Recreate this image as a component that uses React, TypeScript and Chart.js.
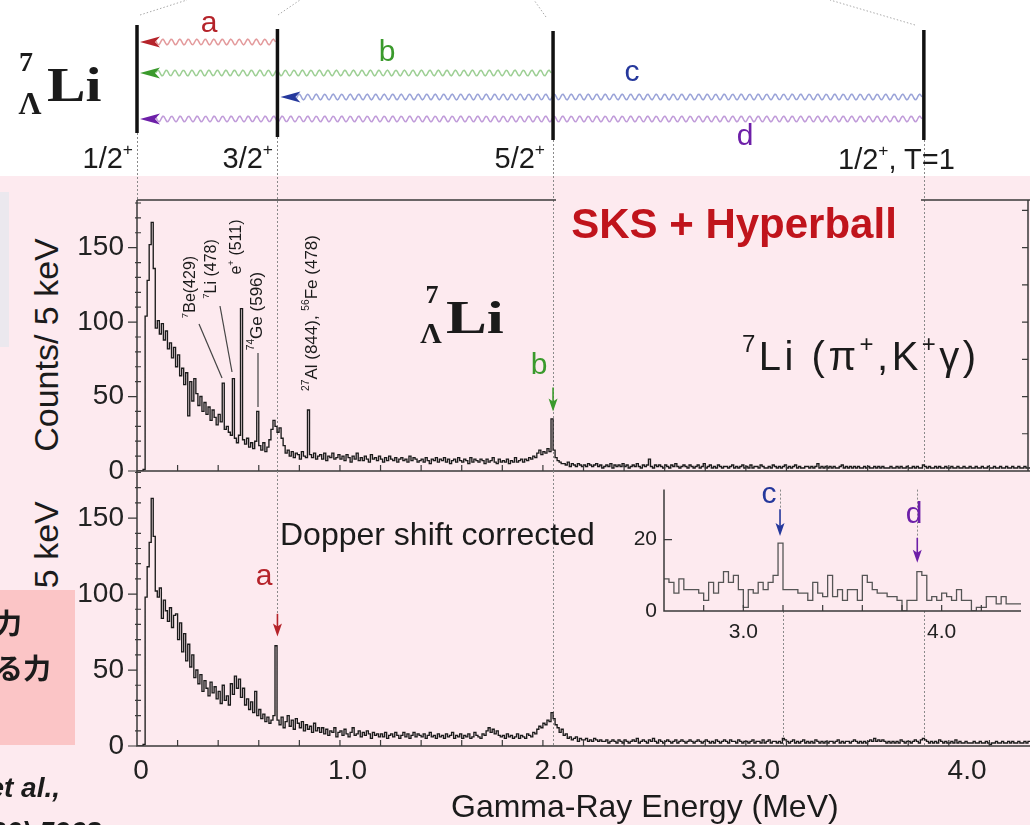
import React, { useEffect, useRef } from "react";
import { Chart, registerables } from "chart.js";

Chart.register(...registerables);

// ---------------- page / style ----------------
const PAGE_W = 1030;
const PAGE_H = 825;
const SANS = '"Liberation Sans", Arial, Helvetica, sans-serif';
const SERIF = '"Liberation Serif", "Times New Roman", serif';
const CJK = '"Noto Sans CJK JP", "Noto Sans CJK SC", sans-serif';
const PINK = "#fdeaef";
const SALMON = "#fbc5c6";
const INK = "#1b1b1b";
const AXIS_INK = "#3a3a3a";
const GUIDE = "#8a8a8a";

// ---------------- data ----------------
const E_MAX_MEV = 4.4;
const MAIN_BIN_MEV = 0.01;

// counts (per 5 keV scale) of the spectrum without Doppler correction, 10 keV steps from 0 MeV
const upperCounts = [
  0, 0, 0, 1, 104, 128, 152, 167, 136, 96,
  101, 92, 99, 88, 94, 82, 86, 76, 83, 70,
  78, 64, 69, 58, 66, 37, 60, 47, 62, 52,
  44, 50, 40, 46, 38, 43, 34, 41, 36, 31,
  38, 33, 59, 28, 30, 26, 24, 62, 22, 19,
  24, 109, 21, 18, 22, 16, 19, 15, 20, 40,
  17, 14, 19, 13, 16, 21, 28, 34, 30, 26,
  29, 22, 17, 12, 14, 10, 13, 9, 12, 11,
  8, 13, 10, 9, 41, 11, 9, 12, 8, 10,
  11, 8, 12, 7, 10, 9, 12, 8, 9, 11,
  8, 10, 7, 11, 9, 6, 10, 8, 12, 7,
  9, 7, 10, 8, 6, 11, 8, 9, 7, 10,
  8, 6, 9, 7, 10, 8, 7, 9, 6, 8,
  9, 7, 8, 6, 10, 7, 9, 8, 6, 7,
  8, 6, 9, 7, 5, 8, 7, 9, 6, 8,
  7, 9, 6, 8, 5, 7, 8, 6, 9, 7,
  6, 8, 7, 5, 9, 6, 8, 7, 6, 8,
  7, 5, 8, 6, 7, 9, 6, 5, 8, 6,
  7, 6, 8, 5, 7, 6, 9, 6, 7, 8,
  6, 8, 7, 9, 8, 10, 9, 12, 14, 11,
  13, 12, 15, 13, 35, 14, 9, 7, 6, 5,
  5, 4, 6, 3, 5, 4, 3, 5, 4, 3,
  4, 3, 5, 4, 3, 4, 5, 3, 4, 2,
  3, 4, 3, 5, 2, 4, 3, 4, 3, 5,
  3, 4, 2, 3, 4, 3, 5, 3, 2, 4,
  3, 4, 8, 3, 2, 4, 3, 4, 3, 2,
  4, 3, 2, 4, 3, 5, 3, 2, 3, 4,
  3, 2, 4, 3, 2, 3, 4, 2, 3, 5,
  2, 3, 4, 2, 3, 2, 4, 3, 2, 3,
  3, 2, 3, 4, 2, 3, 2, 3, 4, 2,
  3, 2, 4, 2, 3, 3, 2, 4, 3, 2,
  2, 3, 2, 4, 3, 2, 3, 2, 3, 4,
  2, 3, 2, 3, 4, 2, 3, 2, 2, 3,
  3, 2, 3, 2, 3, 5, 2, 3, 2, 3,
  2, 3, 2, 3, 2, 2, 3, 4, 2, 3,
  2, 3, 2, 3, 2, 3, 2, 2, 3, 2,
  3, 2, 2, 3, 2, 3, 2, 3, 2, 2,
  2, 3, 2, 2, 3, 2, 3, 2, 2, 3,
  2, 2, 3, 2, 3, 2, 2, 4, 3, 2,
  3, 2, 2, 3, 2, 3, 2, 2, 3, 2,
  2, 3, 2, 2, 3, 2, 2, 3, 2, 2,
  3, 2, 2, 3, 2, 2, 3, 2, 2, 3,
  2, 2, 3, 2, 2, 3, 2, 2, 3, 2,
  2, 3, 2, 2, 3, 2, 2, 3, 2, 2,
];

// counts of the Doppler-shift-corrected spectrum, 10 keV steps from 0 MeV
const lowerCounts = [
  0, 0, 0, 1, 98, 118, 134, 163, 138, 102,
  98, 104, 84, 96, 89, 82, 91, 78, 86, 87,
  70, 81, 62, 74, 56, 67, 52, 60, 45, 50,
  41, 47, 36, 43, 38, 33, 42, 35, 39, 31,
  36, 28, 40, 30, 33, 27, 41, 34, 46, 38,
  44, 32, 38, 27, 31, 24, 29, 22, 36, 20,
  24, 18, 21, 16, 19, 15, 17, 20, 66, 17,
  14, 19, 12, 16, 20, 13, 17, 11, 18, 15,
  12, 16, 10, 14, 11, 13, 9, 15, 10, 12,
  9, 12, 8, 11, 7, 10, 9, 12, 6, 9,
  10, 7, 11, 8, 6, 9, 12, 7, 8, 10,
  6, 9, 7, 10, 8, 5, 9, 7, 8, 6,
  8, 6, 9, 5, 7, 8, 6, 9, 7, 5,
  7, 9, 6, 8, 5, 7, 9, 6, 8, 7,
  6, 8, 5, 7, 9, 6, 7, 5, 8, 6,
  7, 5, 8, 6, 7, 9, 5, 7, 6, 8,
  5, 7, 6, 8, 5, 6, 9, 7, 6, 5,
  8, 7, 10, 12, 9, 11, 8, 10, 7, 6,
  7, 5, 8, 6, 7, 5, 6, 8, 5, 7,
  6, 5, 8, 7, 6, 9, 8, 11, 13, 12,
  15, 14, 17, 16, 22, 18, 14, 12, 9, 11,
  7, 8, 5, 6, 4, 5, 6, 3, 5, 4,
  4, 5, 3, 4, 3, 5, 4, 3, 4, 3,
  3, 4, 2, 3, 4, 3, 2, 4, 3, 2,
  4, 3, 2, 3, 4, 3, 5, 2, 3, 4,
  3, 2, 4, 3, 5, 3, 2, 4, 3, 2,
  3, 4, 3, 2, 3, 4, 2, 3, 4, 3,
  2, 3, 4, 3, 2, 3, 4, 3, 2, 3,
  4, 3, 2, 3, 2, 4, 3, 2, 3, 4,
  3, 2, 4, 3, 3, 2, 4, 3, 2, 3,
  3, 2, 3, 4, 2, 3, 3, 2, 4, 2,
  3, 4, 2, 3, 3, 2, 3, 2, 5, 4,
  3, 2, 3, 4, 2, 3, 2, 3, 4, 2,
  3, 2, 3, 2, 4, 3, 2, 3, 2, 3,
  2, 3, 3, 2, 3, 4, 2, 3, 2, 3,
  3, 2, 3, 4, 3, 2, 3, 2, 3, 2,
  3, 4, 3, 5, 3, 4, 3, 4, 3, 2,
  3, 2, 3, 2, 3, 2, 4, 3, 2, 3,
  3, 2, 3, 4, 3, 2, 4, 5, 4, 3,
  2, 3, 2, 3, 2, 4, 3, 2, 3, 2,
  2, 3, 2, 4, 2, 3, 2, 2, 3, 2,
  2, 2, 3, 2, 2, 3, 2, 2, 3, 2,
  1, 2, 2, 3, 2, 2, 3, 2, 2, 3,
  2, 3, 2, 2, 3, 2, 2, 3, 2, 3,
];

// inset: 25 keV bins from 2.6 MeV
const INSET_START_MEV = 2.6;
const INSET_BIN_MEV = 0.025;
const insetCounts = [
  9, 8, 5, 9, 6, 6, 6, 5, 3, 8,
  5, 8, 11, 8, 10, 6, 1, 6, 5, 8,
  6, 8, 10, 19, 6, 6, 6, 5, 5, 3,
  8, 5, 4, 10, 4, 6, 3, 6, 6, 3,
  10, 8, 6, 5, 5, 4, 4, 3, 0, 3,
  3, 11, 10, 3, 4, 3, 5, 4, 3, 6,
  3, 3, 0, 1, 1, 4, 4, 2, 4, 2,
  2, 2,
];

// level scheme of 7ΛLi (MeV)
const levelEnergies = [0, 0.692, 2.05, 3.877];
const transitions = [
  { name: "a", upper: 1, lower: 0, color: "#b5232a", wave: "#e39a9c" },
  { name: "b", upper: 2, lower: 0, color: "#3a9a2c", wave: "#9dcf94" },
  { name: "c", upper: 3, lower: 1, color: "#25389c", wave: "#9aa3d8" },
  { name: "d", upper: 3, lower: 0, color: "#6d1fa8", wave: "#c09bd9" },
];
const gammaEnergy = (t) => levelEnergies[t.upper] - levelEnergies[t.lower];

const mainYTickLabels = [0, 50, 100, 150];
const mainXTickLabels = [0, 1, 2, 3, 4];
const insetYTickLabels = [0, 20];
const insetXTickLabels = [3, 4];
const UPPER_Y_MAX = 182;
const LOWER_Y_MAX = 181;
const INSET_Y_MAX = 34;

// arrows (tail/tip in counts)
const upperArrows = [{ t: 1, tail: 56, tip: 40 }];
const lowerArrows = [{ t: 0, tail: 87, tip: 72 }];
const insetArrows = [
  { t: 2, tail: 28.5, tip: 21 },
  { t: 3, tail: 20.5, tip: 13.5 },
];

// ---------------- layout ----------------
const PLOT_LEFT = 137;
const UPPER_TOP = 200;
const UPPER_BOTTOM = 471;
const LOWER_BOTTOM = 746;
// the printed energy labels of the original figure sit on a slightly wider grid than the data
const LABEL_AXIS_MIN = -0.0194;
const LABEL_AXIS_MAX = 4.305;
const INSET = { left: 600, top: 470, width: 430, height: 180, plotLeft: 664, plotTop: 478, plotBottom: 611 };
const LEVEL_TOP = [25, 29, 31, 30];
const LEVEL_BOTTOM = [133, 137, 140, 140];
const TRANSITION_Y = [42, 73, 97, 119];
const TOP_DIAGONALS = [
  [140, 15, 187, 0],
  [278, 15, 300, 0],
  [546, 17, 534, 0],
  [915, 25, 830, 0],
];

function histPoints(counts, start, bin) {
  const pts = counts.map((c, i) => ({ x: start + i * bin, y: c }));
  pts.push({ x: start + counts.length * bin, y: counts[counts.length - 1] });
  return pts;
}

const near = (v, list) => list.some((k) => Math.abs(v - k) < 1e-6);

function wavy(ctx, x0, x1, y, amp, lambda) {
  const n = Math.ceil(Math.abs(x1 - x0));
  ctx.beginPath();
  for (let i = 0; i <= n; i++) {
    const xx = x0 + ((x1 - x0) * i) / n;
    const yy = y + amp * Math.sin((2 * Math.PI * (xx - x0)) / lambda);
    if (i === 0) ctx.moveTo(xx, yy);
    else ctx.lineTo(xx, yy);
  }
  ctx.stroke();
}

function drawDownArrow(ctx, px, yTail, yTip, color) {
  ctx.save();
  ctx.setLineDash([]);
  ctx.strokeStyle = color;
  ctx.fillStyle = color;
  ctx.lineWidth = 1.6;
  ctx.beginPath();
  ctx.moveTo(px, yTail);
  ctx.lineTo(px, yTip - 8);
  ctx.stroke();
  ctx.beginPath();
  ctx.moveTo(px, yTip);
  ctx.lineTo(px - 4.5, yTip - 13);
  ctx.lineTo(px, yTip - 10);
  ctx.lineTo(px + 4.5, yTip - 13);
  ctx.closePath();
  ctx.fill();
  ctx.restore();
}

function guide(ctx, px, y0, y1) {
  ctx.save();
  ctx.strokeStyle = GUIDE;
  ctx.lineWidth = 1;
  ctx.setLineDash([2, 2]);
  ctx.beginPath();
  const x = Math.round(px) + 0.5;
  ctx.moveTo(x, y0);
  ctx.lineTo(x, y1);
  ctx.stroke();
  ctx.restore();
}

function drawFrame(chart, o) {
  const { ctx, chartArea: a } = chart;
  const x = chart.scales.x;
  const y = chart.scales.y;
  ctx.save();
  ctx.setLineDash([]);
  ctx.strokeStyle = AXIS_INK;
  ctx.lineWidth = 1.5;
  ctx.beginPath();
  if (o.top) {
    ctx.moveTo(a.left, a.top);
    ctx.lineTo(a.right, a.top);
  }
  ctx.moveTo(a.left, a.top);
  ctx.lineTo(a.left, a.bottom);
  ctx.lineTo(a.right, a.bottom);
  if (o.right) {
    ctx.moveTo(a.right - 2, a.top);
    ctx.lineTo(a.right - 2, a.bottom);
  }
  ctx.stroke();
  ctx.lineWidth = 1.2;
  ctx.beginPath();
  for (const v of o.yMajor) {
    const py = y.getPixelForValue(v);
    ctx.moveTo(a.left + (o.majorIn ? 8 : -9), py);
    ctx.lineTo(a.left, py);
  }
  if (o.yMinorStep) {
    for (let v = o.yMinorStep; v < y.max; v += o.yMinorStep) {
      if (near(v, o.yMajor)) continue;
      const py = y.getPixelForValue(v);
      ctx.moveTo(a.left - 2, py);
      ctx.lineTo(a.left + 4, py);
    }
  }
  if (o.right && o.rightStep) {
    for (let v = o.rightStep; v < y.max; v += o.rightStep) {
      const py = y.getPixelForValue(v);
      ctx.moveTo(a.right - 2, py);
      ctx.lineTo(a.right - 8, py);
    }
  }
  const xs = o.xStep;
  for (let k = Math.ceil((x.min + 1e-9) / xs); k * xs < x.max - 1e-9; k++) {
    const px = x.getPixelForValue(k * xs);
    if (px <= a.left + 1) continue;
    ctx.moveTo(px, a.bottom);
    ctx.lineTo(px, a.bottom - 6);
  }
  ctx.stroke();
  ctx.restore();
}

function drawLevelScheme(chart) {
  const { ctx } = chart;
  const x = chart.scales.x;
  const xs = levelEnergies.map((E) => x.getPixelForValue(E));
  ctx.save();
  ctx.setLineDash([1.5, 2]);
  ctx.strokeStyle = "#a9a9a9";
  ctx.lineWidth = 1;
  for (const [x0, y0, x1, y1] of TOP_DIAGONALS) {
    ctx.beginPath();
    ctx.moveTo(x0, y0);
    ctx.lineTo(x1, y1);
    ctx.stroke();
  }
  ctx.setLineDash([]);
  transitions.forEach((t, i) => {
    const xHi = xs[t.upper];
    const xLo = xs[t.lower];
    const yy = TRANSITION_Y[i];
    ctx.strokeStyle = t.wave;
    ctx.lineWidth = 1.5;
    wavy(ctx, xHi - 2, xLo + 19, yy, 2.8, 8.5);
    ctx.fillStyle = t.color;
    ctx.beginPath();
    ctx.moveTo(xLo + 3, yy);
    ctx.lineTo(xLo + 23, yy - 5.5);
    ctx.lineTo(xLo + 18, yy);
    ctx.lineTo(xLo + 23, yy + 5.5);
    ctx.closePath();
    ctx.fill();
  });
  ctx.strokeStyle = "#111";
  ctx.lineWidth = 3.5;
  xs.forEach((px, i) => {
    ctx.beginPath();
    ctx.moveTo(px, LEVEL_TOP[i]);
    ctx.lineTo(px, LEVEL_BOTTOM[i]);
    ctx.stroke();
  });
  ctx.restore();
}

const upperPlugin = {
  id: "upperDecor",
  beforeDatasetsDraw(chart) {
    const { ctx, chartArea: a } = chart;
    const x = chart.scales.x;
    levelEnergies.forEach((E, i) => {
      guide(ctx, x.getPixelForValue(E), LEVEL_BOTTOM[i], i === 0 ? a.top : a.bottom);
    });
  },
  afterDatasetsDraw(chart) {
    const { ctx } = chart;
    const x = chart.scales.x;
    const y = chart.scales.y;
    drawFrame(chart, { top: true, right: true, rightStep: 25, yMajor: mainYTickLabels, yMinorStep: 10, xStep: 0.2 });
    for (const ar of upperArrows) {
      const t = transitions[ar.t];
      drawDownArrow(ctx, x.getPixelForValue(gammaEnergy(t)), y.getPixelForValue(ar.tail), y.getPixelForValue(ar.tip), t.color);
    }
    drawLevelScheme(chart);
  },
};

const lowerPlugin = {
  id: "lowerDecor",
  beforeDatasetsDraw(chart) {
    const { ctx, chartArea: a } = chart;
    const x = chart.scales.x;
    const y = chart.scales.y;
    for (const ar of lowerArrows) {
      const t = transitions[ar.t];
      guide(ctx, x.getPixelForValue(gammaEnergy(t)), a.top, y.getPixelForValue(ar.tail));
    }
    guide(ctx, x.getPixelForValue(gammaEnergy(transitions[1])), a.top, a.bottom);
    guide(ctx, x.getPixelForValue(gammaEnergy(transitions[2])), INSET.plotBottom, a.bottom);
    guide(ctx, x.getPixelForValue(gammaEnergy(transitions[3])), INSET.plotBottom, a.bottom);
  },
  afterDatasetsDraw(chart) {
    const { ctx } = chart;
    const x = chart.scales.x;
    const y = chart.scales.y;
    drawFrame(chart, { top: false, right: false, yMajor: mainYTickLabels, yMinorStep: 10, xStep: 0.2 });
    for (const ar of lowerArrows) {
      const t = transitions[ar.t];
      drawDownArrow(ctx, x.getPixelForValue(gammaEnergy(t)), y.getPixelForValue(ar.tail), y.getPixelForValue(ar.tip), t.color);
    }
  },
};

const insetPlugin = {
  id: "insetDecor",
  beforeDatasetsDraw(chart) {
    const { ctx, chartArea: a } = chart;
    const x = chart.scales.x;
    const y = chart.scales.y;
    for (const ar of insetArrows) {
      const t = transitions[ar.t];
      guide(ctx, x.getPixelForValue(gammaEnergy(t)), a.top, y.getPixelForValue(ar.tail));
    }
  },
  afterDatasetsDraw(chart) {
    const { ctx } = chart;
    const x = chart.scales.x;
    const y = chart.scales.y;
    drawFrame(chart, { top: false, right: false, yMajor: [20], majorIn: true, yMinorStep: 0, xStep: 0.2 });
    for (const ar of insetArrows) {
      const t = transitions[ar.t];
      drawDownArrow(ctx, x.getPixelForValue(gammaEnergy(t)), y.getPixelForValue(ar.tail), y.getPixelForValue(ar.tip), t.color);
    }
  },
};

function mainConfig(counts, yMax, top, bottom, showX, plugin) {
  const scales = {
    x: { type: "linear", min: 0, max: E_MAX_MEV, display: false },
    y: {
      type: "linear",
      min: 0,
      max: yMax,
      grid: { display: false, drawTicks: false },
      border: { display: false },
      ticks: {
        stepSize: 10,
        autoSkip: false,
        padding: 13,
        color: "#222",
        font: { family: SANS, size: 28 },
        callback: (v) => (near(Number(v), mainYTickLabels) ? String(Math.round(Number(v))) : ""),
      },
      afterFit: (s) => {
        s.width = PLOT_LEFT;
      },
    },
  };
  if (showX) {
    scales.xLab = {
      type: "linear",
      position: "bottom",
      min: LABEL_AXIS_MIN,
      max: LABEL_AXIS_MAX,
      grid: { display: false, drawTicks: false },
      border: { display: false },
      afterBuildTicks: (s) => {
        s.ticks = mainXTickLabels.map((v) => ({ value: v }));
      },
      ticks: {
        autoSkip: false,
        maxRotation: 0,
        minRotation: 0,
        padding: 8,
        color: "#222",
        font: { family: SANS, size: 28 },
        callback: (v) => {
          const n = Number(v);
          return n === 0 ? "0" : n.toFixed(1);
        },
      },
      afterFit: (s) => {
        s.height = PAGE_H - bottom;
      },
    };
  }
  return {
    type: "line",
    data: {
      datasets: [
        {
          xAxisID: "x",
          yAxisID: "y",
          data: histPoints(counts, 0, MAIN_BIN_MEV),
          borderColor: INK,
          borderWidth: 1.35,
          pointRadius: 0,
          stepped: true,
          fill: false,
        },
      ],
    },
    options: {
      responsive: false,
      animation: false,
      events: [],
      layout: { padding: { top, left: 0, right: 0, bottom: showX ? 0 : PAGE_H - bottom } },
      plugins: { legend: { display: false }, tooltip: { enabled: false }, title: { display: false } },
      scales,
    },
    plugins: [plugin],
  };
}

function insetConfig() {
  return {
    type: "line",
    data: {
      datasets: [
        {
          data: histPoints(insetCounts, INSET_START_MEV, INSET_BIN_MEV),
          borderColor: "#555",
          borderWidth: 1.3,
          pointRadius: 0,
          stepped: true,
          fill: false,
        },
      ],
    },
    options: {
      responsive: false,
      animation: false,
      events: [],
      layout: { padding: { top: INSET.plotTop - INSET.top, left: 0, right: 0, bottom: 0 } },
      plugins: { legend: { display: false }, tooltip: { enabled: false } },
      scales: {
        x: {
          type: "linear",
          min: INSET_START_MEV,
          max: E_MAX_MEV,
          grid: { display: false, drawTicks: false },
          border: { display: false },
          ticks: {
            stepSize: 0.2,
            autoSkip: false,
            maxRotation: 0,
            minRotation: 0,
            padding: 9,
            color: "#222",
            font: { family: SANS, size: 21 },
            callback: (v) => (near(Number(v), insetXTickLabels) ? Number(v).toFixed(1) : ""),
          },
          afterFit: (s) => {
            s.height = INSET.height - (INSET.plotBottom - INSET.top);
          },
        },
        y: {
          type: "linear",
          min: 0,
          max: INSET_Y_MAX,
          grid: { display: false, drawTicks: false },
          border: { display: false },
          ticks: {
            stepSize: 10,
            autoSkip: false,
            padding: 7,
            color: "#222",
            font: { family: SANS, size: 21 },
            callback: (v) => (near(Number(v), insetYTickLabels) ? String(Math.round(Number(v))) : ""),
          },
          afterFit: (s) => {
            s.width = INSET.plotLeft - INSET.left;
          },
        },
      },
    },
    plugins: [insetPlugin],
  };
}

// ---------------- text helpers ----------------
function Txt(props) {
  const {
    x, y, size, color = INK, family = SANS, weight = 400, italic = false,
    anchor = "middle", rotate = 0, sx = 1, ls = 0, children,
  } = props;
  const tx = anchor === "start" ? "0%" : anchor === "end" ? "-100%" : "-50%";
  const origin = anchor === "start" ? "left center" : anchor === "end" ? "right center" : "center center";
  return (
    <div
      style={{
        position: "absolute",
        left: x,
        top: y,
        fontSize: size,
        lineHeight: 1,
        fontFamily: family,
        fontWeight: weight,
        fontStyle: italic ? "italic" : "normal",
        color,
        whiteSpace: "nowrap",
        letterSpacing: ls,
        transform: `translate(${tx}, -50%) rotate(${rotate}deg) scaleX(${sx})`,
        transformOrigin: origin,
      }}
    >
      {children}
    </div>
  );
}

function Sup({ children, s = 0.6 }) {
  return (
    <span style={{ fontSize: `${s}em`, position: "relative", top: "-0.75em", lineHeight: 0 }}>{children}</span>
  );
}

export default function App() {
  const upperRef = useRef(null);
  const lowerRef = useRef(null);
  const insetRef = useRef(null);

  useEffect(() => {
    const charts = [
      new Chart(upperRef.current, mainConfig(upperCounts, UPPER_Y_MAX, UPPER_TOP, UPPER_BOTTOM, false, upperPlugin)),
      new Chart(lowerRef.current, mainConfig(lowerCounts, LOWER_Y_MAX, UPPER_BOTTOM, LOWER_BOTTOM, true, lowerPlugin)),
      new Chart(insetRef.current, insetConfig()),
    ];
    return () => charts.forEach((c) => c.destroy());
  }, []);

  const canvasStyle = { position: "absolute", left: 0, top: 0 };

  return (
    <div
      style={{
        position: "fixed",
        left: 0,
        top: 0,
        width: PAGE_W,
        height: PAGE_H,
        overflow: "hidden",
        background: "#ffffff",
        fontFamily: SANS,
      }}
    >
      <div style={{ position: "absolute", left: 0, top: 176, width: PAGE_W, height: PAGE_H - 176, background: PINK }} />
      <div style={{ position: "absolute", left: 0, top: 192, width: 9, height: 155, background: "#ebe8ee" }} />

      {/* y-axis titles (lower one is partly hidden by the box) */}
      <Txt x={46} y={345} size={34} rotate={-90}>Counts/ 5 keV</Txt>
      <Txt x={46} y={608} size={34} rotate={-90}>Counts/ 5 keV</Txt>

      <canvas ref={upperRef} width={PAGE_W} height={PAGE_H} style={canvasStyle} />
      <canvas ref={lowerRef} width={PAGE_W} height={PAGE_H} style={canvasStyle} />
      <canvas
        ref={insetRef}
        width={INSET.width}
        height={INSET.height}
        style={{ position: "absolute", left: INSET.left, top: INSET.top }}
      />

      {/* leader lines for the background peaks */}
      <svg width={PAGE_W} height={PAGE_H} style={{ position: "absolute", left: 0, top: 0 }}>
        <line x1={199} y1={324} x2={222} y2={378} stroke="#444" strokeWidth={1.2} />
        <line x1={220} y1={306} x2={232} y2={372} stroke="#444" strokeWidth={1.2} />
        <line x1={258} y1={353} x2={258} y2={407} stroke="#444" strokeWidth={1.2} />
      </svg>

      {/* level scheme texts */}
      <Txt x={26} y={62} size={28} family={SERIF} weight={700}>7</Txt>
      <Txt x={30} y={103} size={32} family={SERIF} weight={700}>Λ</Txt>
      <Txt x={47} y={85} size={48} family={SERIF} weight={700} anchor="start" sx={1.2}>Li</Txt>
      <Txt x={209} y={22} size={30} color={transitions[0].color}>a</Txt>
      <Txt x={387} y={51} size={30} color={transitions[1].color}>b</Txt>
      <Txt x={632} y={71} size={30} color={transitions[2].color}>c</Txt>
      <Txt x={745} y={135} size={30} color={transitions[3].color}>d</Txt>
      <Txt x={133} y={158} size={29} anchor="end">1/2<Sup>+</Sup></Txt>
      <Txt x={273} y={158} size={29} anchor="end">3/2<Sup>+</Sup></Txt>
      <Txt x={545} y={158} size={29} anchor="end">5/2<Sup>+</Sup></Txt>
      <Txt x={838} y={159} size={29} anchor="start">1/2<Sup>+</Sup>, T=1</Txt>

      {/* upper panel */}
      <div style={{ position: "absolute", left: 556, top: 194, width: 365, height: 54, background: PINK }} />
      <Txt x={734} y={224} size={42} weight={700} color="#c0141c">SKS + Hyperball</Txt>
      <Txt x={432} y={295} size={26} family={SERIF} weight={700}>7</Txt>
      <Txt x={431} y={333} size={30} family={SERIF} weight={700}>Λ</Txt>
      <Txt x={446} y={318} size={46} family={SERIF} weight={700} anchor="start" sx={1.33}>Li</Txt>
      <Txt x={742} y={356} size={40} anchor="start" ls={3.5}><Sup>7</Sup>Li (π<Sup>+</Sup>,K<Sup>+</Sup>γ)</Txt>
      <Txt x={190} y={287} size={16} rotate={-90}><Sup>7</Sup>Be(429)</Txt>
      <Txt x={211} y={269} size={16} rotate={-90}><Sup>7</Sup>Li (478)</Txt>
      <Txt x={236} y={247} size={16} rotate={-90}>e<Sup>+</Sup> (511)</Txt>
      <Txt x={256} y={311} size={17} rotate={-90}><Sup>74</Sup>Ge (596)</Txt>
      <Txt x={311} y={313} size={17} rotate={-90}><Sup>27</Sup>Al (844), <Sup>56</Sup>Fe (478)</Txt>
      <Txt x={539} y={364} size={30} color={transitions[1].color}>b</Txt>

      {/* lower panel */}
      <Txt x={280} y={534} size={32} anchor="start">Dopper shift corrected</Txt>
      <Txt x={264} y={575} size={30} color={transitions[0].color}>a</Txt>
      <Txt x={769} y={493} size={30} color={transitions[2].color}>c</Txt>
      <Txt x={914} y={513} size={30} color={transitions[3].color}>d</Txt>
      <Txt x={451} y={806} size={32} anchor="start">Gamma-Ray Energy (MeV)</Txt>

      {/* slide remnants on the left */}
      <div style={{ position: "absolute", left: 0, top: 590, width: 75, height: 155, background: SALMON }} />
      <Txt x={22} y={622} size={28} family={CJK} weight={700} anchor="end">核力</Txt>
      <Txt x={51} y={667} size={28} family={CJK} weight={700} anchor="end">束縛する力</Txt>
      <Txt x={60} y={788} size={28} weight={700} italic anchor="end">Tamura et al.,</Txt>
      <Txt x={101} y={832} size={28} weight={700} italic anchor="end">PRL 84 (2000) 5963</Txt>
    </div>
  );
}
